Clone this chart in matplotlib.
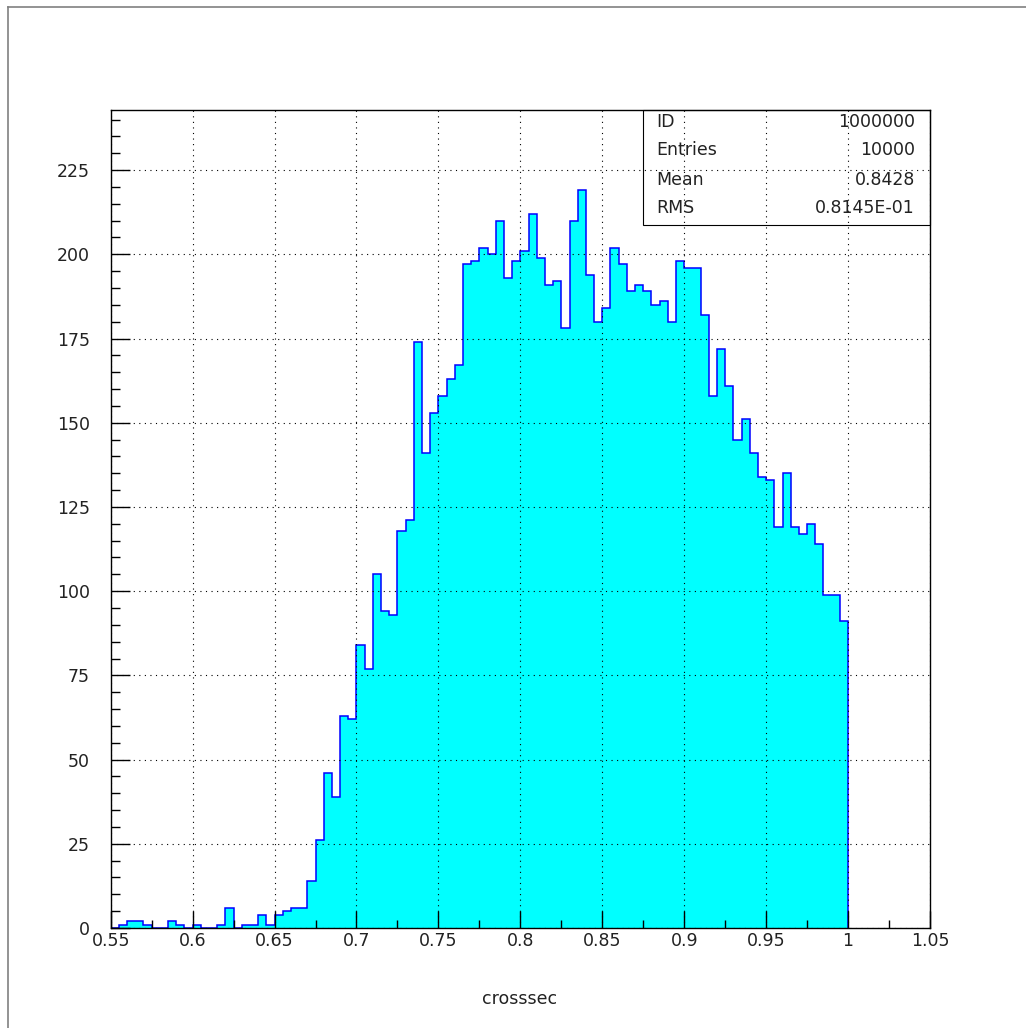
import matplotlib
matplotlib.use("Agg")
import matplotlib.pyplot as plt
import numpy as np
from matplotlib.ticker import MultipleLocator, FuncFormatter
from matplotlib.patches import Rectangle
from matplotlib.lines import Line2D

# contenu des bins (largeur 0.005 a partir de 0.55)
counts = [
    0, 1, 2, 2, 1, 0, 0, 2, 1, 0, 1, 0, 0, 1, 6, 0, 1, 1, 4, 1,
    4, 5, 6, 6, 14, 26, 46, 39, 63, 62, 84, 77, 105, 94, 93, 118, 121, 174, 141, 153,
    158, 163, 167, 197, 198, 202, 200, 210, 193, 198, 201, 212, 199, 191, 192, 178, 210, 219, 194, 180,
    184, 202, 197, 189, 191, 189, 185, 186, 180, 198, 196, 196, 182, 158, 172, 161, 145, 151, 141, 134,
    133, 119, 135, 119, 117, 120, 114, 99, 99, 91,
]
bin_start = 0.55
bin_width = 0.005
edges = bin_start + bin_width * np.arange(len(counts) + 1)

stat_names = ["ID", "Entries", "Mean", "RMS"]
stat_values = ["1000000", "10000", "0.8428", "0.8145E-01"]
x_title = "crosssec"

W, H = 1026, 1028
fig = plt.figure(figsize=(W / 100, H / 100), dpi=100)
ax = fig.add_axes([110.7 / W, 100 / H, 819.3 / W, 818.5 / H])

ax.stairs(counts, edges, fill=True, color="#00ffff", zorder=1)
ax.stairs(counts, edges, color="#0000ff", lw=1.1, zorder=1.5)

ax.set_xlim(0.55, 1.05)
ax.set_ylim(0, 243)

ax.xaxis.set_major_locator(MultipleLocator(0.05))
ax.xaxis.set_minor_locator(MultipleLocator(0.025))
ax.yaxis.set_major_locator(MultipleLocator(25))
ax.yaxis.set_minor_locator(MultipleLocator(5))
ax.xaxis.set_major_formatter(FuncFormatter(lambda v, p: "%g" % round(v, 3)))
ax.yaxis.set_major_formatter(FuncFormatter(lambda v, p: "%d" % round(v)))

ax.tick_params(axis="x", which="major", direction="in", length=12, width=1, pad=3,
               labelsize=12.5, labelcolor="#222222")
ax.tick_params(axis="x", which="minor", direction="in", length=6, width=1)
ax.tick_params(axis="y", which="major", direction="in", length=13.5, width=1, pad=15,
               labelsize=12.5, labelcolor="#222222")
ax.tick_params(axis="y", which="minor", direction="in", length=6.5, width=1)

ax.set_axisbelow(False)
ax.grid(True, which="major", color="black", linestyle=(0, (1, 4)), lw=0.8)

for s in ax.spines.values():
    s.set_linewidth(1.0)

# boite de statistiques
ax.add_patch(Rectangle((0.650, 0.859), 0.350, 0.141, fill=False, ec="black",
                       lw=0.8, transform=ax.transAxes, clip_on=False, zorder=5))
rows_y = [0.985, 0.950, 0.914, 0.880]
for name, val, yy in zip(stat_names, stat_values, rows_y):
    ax.text(0.6664, yy, name, transform=ax.transAxes, ha="left", va="center",
            fontsize=12.5, color="#222222")
    ax.text(0.9817, yy, val, transform=ax.transAxes, ha="right", va="center",
            fontsize=12.5, color="#222222")

fig.text(520 / W, 1 - 1004 / H, x_title, ha="center", va="baseline", fontsize=12.5,
         color="#222222")

# cadre exterieur
fig.add_artist(Line2D([8.3 / W, 8.3 / W], [0, 1 - 6.5 / H], color="#808080", lw=1.2))
fig.add_artist(Line2D([8.3 / W, 1], [1 - 6.5 / H, 1 - 6.5 / H], color="#808080", lw=1.2))

fig.savefig("out.png", dpi=100)
